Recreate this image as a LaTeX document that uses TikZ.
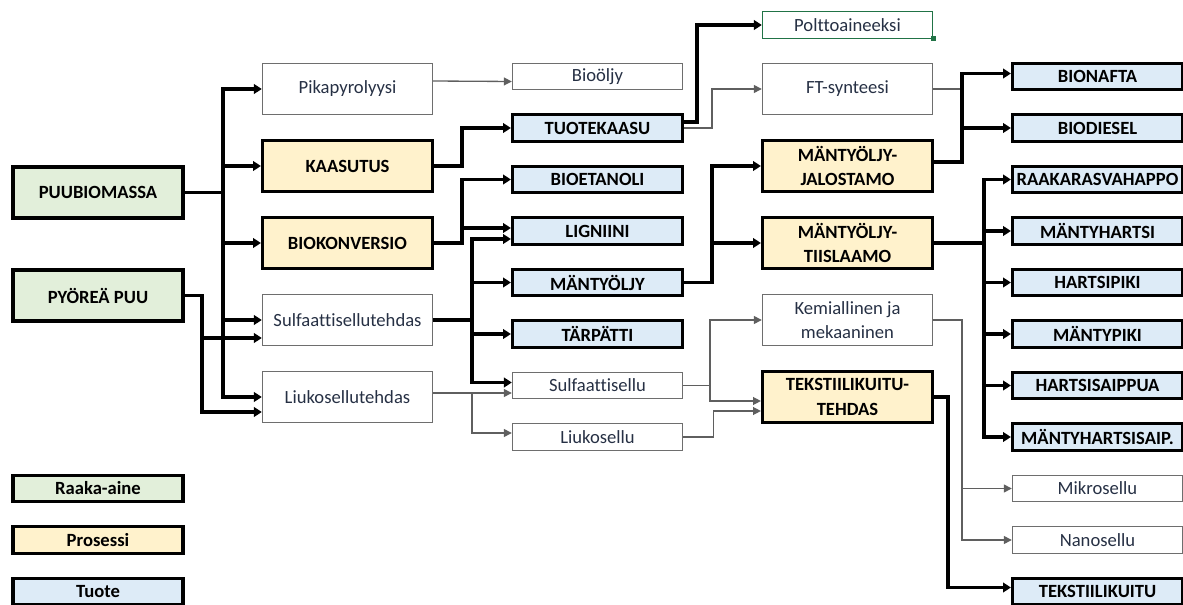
\documentclass[tikz,border=0pt]{standalone}
\usepackage{fontspec}
\setmainfont[Ligatures=NoCommon]{Carlito}
\usepackage{tikz}
\usetikzlibrary{
  arrows.meta,
  positioning,
  calc
}

\definecolor{rawgreen}{RGB}{226,239,218}
\definecolor{procyellow}{RGB}{255,242,204}
\definecolor{prodblue}{RGB}{221,235,247}
\definecolor{plaintext}{RGB}{38,48,68}
\definecolor{thinline}{RGB}{95,95,95}
\definecolor{thinbox}{RGB}{110,110,110}
\definecolor{cellgreen}{RGB}{33,115,70}

\begin{document}
\begin{tikzpicture}[
  font=\fontsize{10.6}{14}\selectfont,
  box/.style={draw, line width=1.8pt, minimum width=3.4cm, inner sep=0pt,
    align=center, font=\fontsize{10.6}{14}\selectfont\bfseries},
  raw/.style={box, fill=rawgreen, minimum height=1.02cm},
  proc/.style={box, fill=procyellow, minimum height=1.02cm},
  prod/.style={box, fill=prodblue, minimum height=0.53cm},
  legend/.style={box, minimum height=0.53cm},
  plain/.style={draw=thinbox, line width=0.8pt, text=plaintext, minimum width=3.4cm,
    inner sep=0pt, align=center},
  plaintall/.style={plain, minimum height=1.02cm},
  plainshort/.style={plain, minimum height=0.53cm},
  thickarrow/.style={line width=1.8pt, -{Triangle[length=4.5pt,width=5.5pt]}},
  thinarrow/.style={draw=thinline, line width=0.75pt, -{Triangle[length=4.5pt,width=4.5pt]}}
]
  \useasboundingbox (0,0) rectangle (23.66,-12.10);

  % Raw materials
  \node[raw] (puubio) at (1.96,-3.85) {PUUBIOMASSA};
  \node[raw] (pyorea) at (1.96,-5.91) {PYÖREÄ PUU};

  % Legend
  \node[legend, fill=rawgreen] (legraw) at (1.96,-9.77) {Raaka-aine};
  \node[legend, fill=procyellow] (legproc) at (1.96,-10.80) {Prosessi};
  \node[legend, fill=prodblue] (legprod) at (1.96,-11.83) {Tuote};

  % Processes, column 2
  \node[plaintall] (pika) at (6.95,-1.78) {Pikapyrolyysi};
  \node[proc] (kaasu) at (6.95,-3.32) {KAASUTUS};
  \node[proc] (biokonv) at (6.95,-4.86) {BIOKONVERSIO};
  \node[plaintall] (sulfte) at (6.95,-6.40) {Sulfaattisellutehdas};
  \node[plaintall] (liukote) at (6.95,-7.94) {Liukosellutehdas};

  % Products, column 3
  \node[plainshort] (bioo) at (11.95,-1.53) {Bioöljy};
  \foreach \n/\t [count=\i from 2] in {tuotek/TUOTEKAASU, bioet/BIOETANOLI,
      lign/LIGNIINI, mantyolj/MÄNTYÖLJY, tarp/TÄRPÄTTI}{
    \node[prod] (\n) at (11.95,{-0.5-1.03*\i}) {\t};
  }
  \node[plainshort] (sulfsel) at (11.95,-7.71) {Sulfaattisellu};
  \node[plainshort] (liukos) at (11.95,-8.74) {Liukosellu};

  % Column 4
  \node[plainshort, draw=cellgreen] (polt) at (16.95,-0.5) {Polttoaineeksi};
  \node[fill=cellgreen, inner sep=0pt, minimum size=0.1cm] (handle) at (polt.south east) {};
  \node[plaintall] (ft) at (16.95,-1.78) {FT-synteesi};
  \node[proc] (jalo) at (16.95,-3.32) {MÄNTYÖLJY-\\JALOSTAMO};
  \node[proc] (tiis) at (16.95,-4.86) {MÄNTYÖLJY-\\TIISLAAMO};
  \node[plaintall] (kemial) at (16.95,-6.40) {Kemiallinen ja\\mekaaninen};
  \node[proc] (tekst) at (16.95,-7.94) {TEKSTIILIKUITU-\\TEHDAS};

  % End products, column 5
  \foreach \n/\t [count=\i] in {bionafta/BIONAFTA, biodiesel/BIODIESEL,
      raakaras/RAAKARASVAHAPPO, mhartsi/MÄNTYHARTSI, hpiki/HARTSIPIKI,
      mpiki/MÄNTYPIKI, hsaip/HARTSISAIPPUA, mhsaip/MÄNTYHARTSISAIP.}{
    \node[prod] (\n) at (21.95,{-0.5-1.03*\i}) {\t};
  }
  \node[plainshort] (mikro) at (21.95,-9.77) {Mikrosellu};
  \node[plainshort] (nano) at (21.95,-10.80) {Nanosellu};
  \node[prod] (tkuitu) at (21.95,-11.83) {TEKSTIILIKUITU};

  % Bus lines
  \coordinate (busA) at (4.46,0);
  \coordinate (busB) at (4.04,0);
  \coordinate (busC) at (9.24,0);
  \coordinate (busD) at (9.44,0);
  \coordinate (busE) at (13.94,0);
  \coordinate (busF) at (14.24,0);
  \coordinate (busG) at (14.20,0);
  \coordinate (busG2) at (14.27,0);
  \coordinate (busH) at (19.24,0);
  \coordinate (busI) at (19.68,0);
  \coordinate (busJ) at (18.96,0);

  % Raw materials to processes
  \foreach \n in {pika,kaasu,biokonv,sulfte,liukote}{
    \draw[thickarrow] (puubio.east) -- (puubio.east -| busA) |- (\n.west);
  }
  \draw[thickarrow] (pyorea.east) -- (pyorea.east -| busB) |- ([yshift=-0.36cm]sulfte.west);
  \draw[thickarrow] (pyorea.east) -- (pyorea.east -| busB) |- ([yshift=-0.3cm]liukote.west);

  % Column 2 to column 3
  \draw[thinarrow] ([yshift=0.16cm]pika.east) -- ([yshift=-0.1cm]bioo.west);
  \draw[thickarrow] (kaasu.east) -- (kaasu.east -| busC) |- (tuotek.west);
  \draw[thickarrow] (biokonv.east) -- (biokonv.east -| busC) |- (bioet.west);
  \draw[thickarrow] (biokonv.east) -- (biokonv.east -| busC) |- ([yshift=0.06cm]lign.west);
  \foreach \n/\dy in {lign/-0.16, mantyolj/0, tarp/0, sulfsel/0.06}{
    \draw[thickarrow] (sulfte.east) -- (sulfte.east -| busD) |- ([yshift=\dy cm]\n.west);
  }
  \coordinate (liukoout) at ([yshift=0.08cm]liukote.east);
  \draw[thinarrow] (liukoout) -- (liukoout -| sulfsel.west);
  \draw[thinarrow] (liukoout -| busD) |- ([yshift=0.08cm]liukos.west);

  % Column 3 to column 4
  \coordinate (tkout) at ([yshift=0.12cm]tuotek.east);
  \draw[thickarrow] (tkout) -- (tkout -| busE) |- (polt.west);
  \draw[thinarrow] (tuotek.east) -- (tuotek.east -| busF) |- (ft.west);
  \foreach \n in {jalo,tiis}{
    \draw[thickarrow] (mantyolj.east) -- (mantyolj.east -| busF) |- (\n.west);
  }
  \draw[thinarrow] (sulfsel.east) -- (sulfsel.east -| busG) |- (kemial.west);
  \draw[thinarrow] (sulfsel.east) -- (sulfsel.east -| busG) |- ([yshift=-0.08cm]tekst.west);
  \draw[thinarrow] (liukos.east) -- (liukos.east -| busG2) |- ([yshift=-0.28cm]tekst.west);

  % Column 4 to column 5
  \draw[draw=thinline, line width=0.75pt] (ft.east) -- (ft.east -| busH);
  \coordinate (jaout) at ([yshift=0.08cm]jalo.east);
  \foreach \n/\dy in {bionafta/0.06, biodiesel/0}{
    \draw[thickarrow] (jaout) -- (jaout -| busH) |- ([yshift=\dy cm]\n.west);
  }
  \foreach \n in {raakaras,mhartsi,hpiki,mpiki,hsaip,mhsaip}{
    \draw[thickarrow] (tiis.east) -- (tiis.east -| busI) |- (\n.west);
  }
  \foreach \n in {mikro,nano}{
    \draw[thinarrow] (kemial.east) -- (kemial.east -| busH) |- (\n.west);
  }
  \draw[thickarrow] (tekst.east) -- (tekst.east -| busJ) |- ([yshift=0.08cm]tkuitu.west);
\end{tikzpicture}
\end{document}
